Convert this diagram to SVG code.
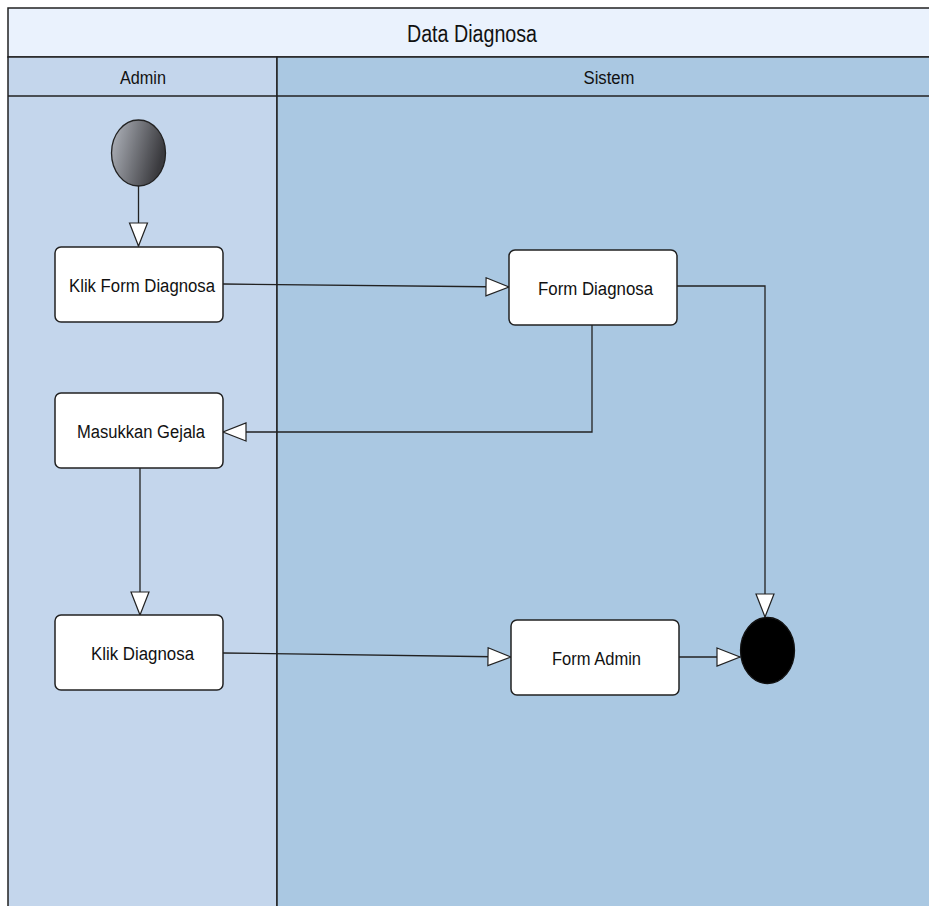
<svg xmlns="http://www.w3.org/2000/svg" width="929" height="906" viewBox="0 0 929 906">
<style>
.lbl{font-family:"Liberation Sans",Arial,sans-serif;fill:#111;text-anchor:middle}
.node{fill:#fff;stroke:#222;stroke-width:1.5}
.edge{fill:none;stroke:#222;stroke-width:1.3}
.frame{stroke:#222;stroke-width:1.5}
</style>
<defs>
<linearGradient id="startGrad" x1="0" y1="0" x2="1" y2="0.3">
<stop offset="0" stop-color="#b4b8c0"/>
<stop offset="1" stop-color="#3a3a3e"/>
</linearGradient>
<marker id="arr" markerWidth="26" markerHeight="22" refX="24" refY="10" orient="auto" markerUnits="userSpaceOnUse">
<path d="M1,1 L24,10 L1,19 Z" fill="#fff" stroke="#222" stroke-width="1.2"/>
</marker>
</defs>
<rect width="929" height="906" fill="#fff"/>
<g id="pool">
<rect x="8" y="8" width="930" height="49" fill="#eaf2fd" class="frame"/>
<rect x="8" y="57" width="269" height="860" fill="#c4d6ec" class="frame"/>
<rect x="277" y="57" width="660" height="860" fill="#aac8e2" class="frame"/>
<line x1="8" y1="96" x2="929" y2="96" class="frame"/>
<text class="lbl" x="472" y="42" font-size="23" textLength="130" lengthAdjust="spacingAndGlyphs">Data Diagnosa</text>
<text class="lbl" x="143" y="84" font-size="18" textLength="46" lengthAdjust="spacingAndGlyphs">Admin</text>
<text class="lbl" x="609" y="84" font-size="18" textLength="51" lengthAdjust="spacingAndGlyphs">Sistem</text>
</g>
<g id="edges">
<path class="edge" d="M138.5,186 L138.5,246" marker-end="url(#arr)"/>
<path class="edge" d="M223,284 L509,287" marker-end="url(#arr)"/>
<path class="edge" d="M592,325 L592,432 L223,432" marker-end="url(#arr)"/>
<path class="edge" d="M677,286 L765,286 L765,617" marker-end="url(#arr)"/>
<path class="edge" d="M140,468 L140,615" marker-end="url(#arr)"/>
<path class="edge" d="M223,653 L511,657" marker-end="url(#arr)"/>
<path class="edge" d="M679,657 L740,657" marker-end="url(#arr)"/>
</g>
<g id="start">
<ellipse cx="138.5" cy="153" rx="27" ry="33" fill="url(#startGrad)" stroke="#222" stroke-width="1.3"/>
</g>
<g id="klikForm">
<rect class="node" x="55" y="247" width="168" height="75" rx="6"/>
<text class="lbl" x="142" y="291.5" font-size="18" textLength="146" lengthAdjust="spacingAndGlyphs">Klik Form Diagnosa</text>
</g>
<g id="formDiagnosa">
<rect class="node" x="509" y="250" width="168" height="75" rx="6"/>
<text class="lbl" x="595.5" y="294.5" font-size="18" textLength="115" lengthAdjust="spacingAndGlyphs">Form Diagnosa</text>
</g>
<g id="masukkan">
<rect class="node" x="55" y="393" width="168" height="75" rx="6"/>
<text class="lbl" x="141" y="438" font-size="18" textLength="128" lengthAdjust="spacingAndGlyphs">Masukkan Gejala</text>
</g>
<g id="klikDiagnosa">
<rect class="node" x="55" y="615" width="168" height="75" rx="6"/>
<text class="lbl" x="142.5" y="660" font-size="18" textLength="103" lengthAdjust="spacingAndGlyphs">Klik Diagnosa</text>
</g>
<g id="formAdmin">
<rect class="node" x="511" y="620" width="168" height="75" rx="6"/>
<text class="lbl" x="596.5" y="665" font-size="18" textLength="89" lengthAdjust="spacingAndGlyphs">Form Admin</text>
</g>
<g id="end">
<ellipse cx="767.5" cy="650.5" rx="27" ry="33" fill="#000" stroke="#111" stroke-width="1.3"/>
</g>
</svg>
